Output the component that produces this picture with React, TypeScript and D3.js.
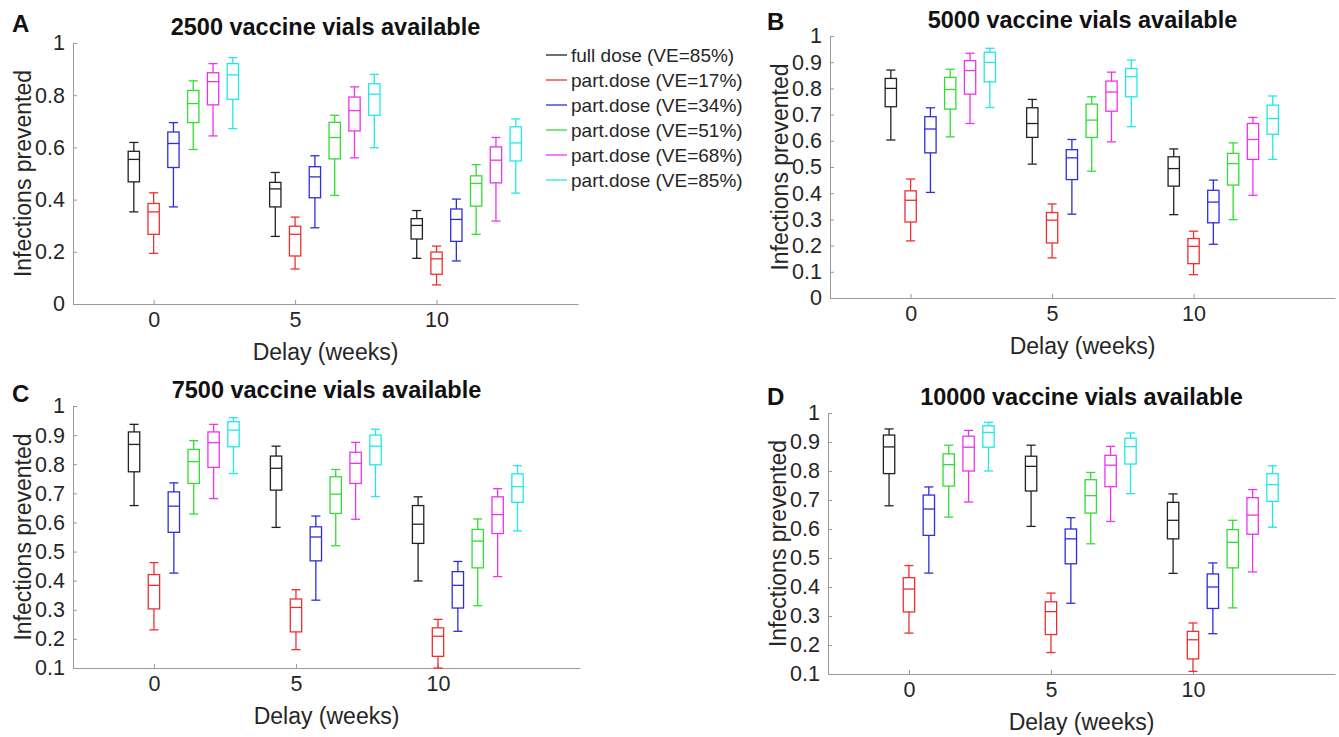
import React, { useEffect, useRef } from 'react';
import * as d3 from 'd3';

const delays = [0, 5, 10];
const seriesNames = [
  'full dose (VE=85%)',
  'part.dose (VE=17%)',
  'part.dose (VE=34%)',
  'part.dose (VE=51%)',
  'part.dose (VE=68%)',
  'part.dose (VE=85%)',
];
const seriesColors = ['#222222', '#ee3030', '#2e2ee0', '#33dd33', '#ee33ee', '#22e8e8'];
// box positions relative to the delay tick
const seriesOffsets = [-0.7, 0, 0.7, 1.4, 2.1, 2.8];

// per series -> per delay -> [low whisker, q1, median, q3, high whisker]
const vials2500 = [
  [[0.353, 0.468, 0.554, 0.585, 0.619], [0.259, 0.372, 0.441, 0.466, 0.504], [0.175, 0.249, 0.301, 0.327, 0.358]],
  [[0.194, 0.267, 0.353, 0.385, 0.426], [0.134, 0.184, 0.267, 0.298, 0.333], [0.073, 0.114, 0.173, 0.199, 0.222]],
  [[0.372, 0.523, 0.615, 0.659, 0.695], [0.292, 0.407, 0.487, 0.526, 0.568], [0.165, 0.240, 0.324, 0.364, 0.402]],
  [[0.592, 0.695, 0.768, 0.818, 0.855], [0.416, 0.556, 0.638, 0.696, 0.723], [0.267, 0.375, 0.462, 0.491, 0.534]],
  [[0.644, 0.763, 0.852, 0.886, 0.921], [0.560, 0.663, 0.741, 0.793, 0.832], [0.318, 0.464, 0.551, 0.602, 0.638]],
  [[0.672, 0.784, 0.878, 0.921, 0.944], [0.599, 0.723, 0.804, 0.844, 0.880], [0.425, 0.548, 0.617, 0.679, 0.709]],
];

const vials5000 = [
  [[0.603, 0.730, 0.800, 0.838, 0.870], [0.511, 0.613, 0.666, 0.726, 0.758], [0.318, 0.427, 0.494, 0.539, 0.569]],
  [[0.218, 0.290, 0.373, 0.409, 0.454], [0.153, 0.210, 0.297, 0.326, 0.359], [0.089, 0.131, 0.197, 0.227, 0.255]],
  [[0.403, 0.554, 0.645, 0.692, 0.726], [0.320, 0.452, 0.535, 0.566, 0.605], [0.205, 0.287, 0.366, 0.411, 0.450]],
  [[0.615, 0.721, 0.796, 0.842, 0.873], [0.484, 0.613, 0.679, 0.740, 0.768], [0.299, 0.431, 0.513, 0.552, 0.592]],
  [[0.666, 0.778, 0.868, 0.906, 0.934], [0.596, 0.713, 0.786, 0.828, 0.862], [0.392, 0.529, 0.605, 0.666, 0.689]],
  [[0.727, 0.825, 0.899, 0.938, 0.953], [0.654, 0.768, 0.845, 0.876, 0.908], [0.529, 0.625, 0.685, 0.736, 0.771]],
];

const vials7500 = [
  [[0.658, 0.774, 0.868, 0.911, 0.937], [0.583, 0.711, 0.786, 0.828, 0.862], [0.399, 0.528, 0.594, 0.658, 0.688]],
  [[0.231, 0.303, 0.384, 0.421, 0.462], [0.163, 0.224, 0.308, 0.337, 0.369], [0.100, 0.140, 0.209, 0.238, 0.267]],
  [[0.426, 0.566, 0.656, 0.705, 0.736], [0.333, 0.468, 0.550, 0.585, 0.622], [0.226, 0.306, 0.384, 0.431, 0.466]],
  [[0.629, 0.734, 0.809, 0.851, 0.881], [0.520, 0.631, 0.697, 0.757, 0.782], [0.314, 0.444, 0.536, 0.576, 0.612]],
  [[0.682, 0.789, 0.874, 0.911, 0.937], [0.611, 0.734, 0.803, 0.841, 0.875], [0.414, 0.562, 0.627, 0.688, 0.716]],
  [[0.768, 0.860, 0.917, 0.946, 0.960], [0.689, 0.798, 0.862, 0.900, 0.920], [0.571, 0.669, 0.723, 0.767, 0.795]],
];

const vials10000 = [
  [[0.680, 0.791, 0.883, 0.924, 0.945], [0.609, 0.731, 0.816, 0.851, 0.889], [0.447, 0.566, 0.630, 0.692, 0.721]],
  [[0.241, 0.314, 0.393, 0.432, 0.474], [0.174, 0.236, 0.315, 0.349, 0.379], [0.109, 0.152, 0.218, 0.247, 0.276]],
  [[0.448, 0.578, 0.669, 0.717, 0.745], [0.344, 0.480, 0.566, 0.600, 0.639], [0.239, 0.326, 0.400, 0.445, 0.483]],
  [[0.641, 0.748, 0.822, 0.859, 0.889], [0.549, 0.655, 0.715, 0.770, 0.795], [0.328, 0.466, 0.554, 0.598, 0.630]],
  [[0.693, 0.800, 0.882, 0.920, 0.940], [0.626, 0.746, 0.820, 0.854, 0.885], [0.452, 0.582, 0.648, 0.708, 0.736]],
  [[0.800, 0.882, 0.933, 0.956, 0.968], [0.722, 0.824, 0.884, 0.913, 0.931], [0.606, 0.695, 0.753, 0.791, 0.818]],
];

const yTicksFrom0 = [0, 0.2, 0.4, 0.6, 0.8, 1];
const yTicksTenths = [0, 0.1, 0.2, 0.3, 0.4, 0.5, 0.6, 0.7, 0.8, 0.9, 1];
const yTicksFrom01 = [0.1, 0.2, 0.3, 0.4, 0.5, 0.6, 0.7, 0.8, 0.9, 1];

const panels = [
  { letter: 'A', title: '2500 vaccine vials available', data: vials2500, yDomain: [0, 1], yTicks: yTicksFrom0,
    left: 73, right: 578, top: 43, bottom: 304, letterX: 12, letterY: 32, legend: true },
  { letter: 'B', title: '5000 vaccine vials available', data: vials5000, yDomain: [0, 1], yTicks: yTicksTenths,
    left: 830, right: 1335, top: 36, bottom: 298, letterX: 767, letterY: 30, legend: false },
  { letter: 'C', title: '7500 vaccine vials available', data: vials7500, yDomain: [0.1, 1], yTicks: yTicksFrom01,
    left: 73, right: 580, top: 406, bottom: 668, letterX: 12, letterY: 402, legend: false },
  { letter: 'D', title: '10000 vaccine vials available', data: vials10000, yDomain: [0.1, 1], yTicks: yTicksFrom01,
    left: 828, right: 1335, top: 413, bottom: 674, letterX: 767, letterY: 405, legend: false },
];

const FONT = "'Liberation Sans', Arial, sans-serif";
const AXIS_COLOR = '#9a9a9a';
const TEXT_COLOR = '#262626';

function drawPanel(svg, p) {
  const x = d3.scaleLinear().domain([-2.85, 15]).range([p.left, p.right]);
  const y = d3.scaleLinear().domain(p.yDomain).range([p.bottom, p.top]);
  const g = svg.append('g');

  const xAxis = g.append('g')
    .attr('transform', `translate(0,${p.bottom})`)
    .call(d3.axisBottom(x).tickValues(delays).tickSizeInner(-4).tickSizeOuter(0).tickPadding(8));
  const yAxis = g.append('g')
    .attr('transform', `translate(${p.left},0)`)
    .call(d3.axisLeft(y).tickValues(p.yTicks).tickSizeInner(-4).tickSizeOuter(0).tickPadding(8)
      .tickFormat(d3.format('~g')));

  [xAxis, yAxis].forEach(a => {
    a.select('.domain').attr('stroke', AXIS_COLOR);
    a.selectAll('.tick line').attr('stroke', AXIS_COLOR);
    a.selectAll('.tick text').attr('fill', TEXT_COLOR).style('font-size', '21.5px').style('font-family', FONT);
  });

  // boxes
  const halfBox = x(0.2) - x(0);
  const halfCap = x(0.16) - x(0);
  p.data.forEach((series, s) => {
    const color = seriesColors[s];
    series.forEach((st, di) => {
      const [lo, q1, med, q3, hi] = st;
      const cx = x(delays[di] + seriesOffsets[s]);
      const bg = g.append('g').attr('stroke', color).attr('stroke-width', 1.3).attr('fill', 'none');
      bg.append('line').attr('x1', cx).attr('x2', cx).attr('y1', y(hi)).attr('y2', y(q3));
      bg.append('line').attr('x1', cx).attr('x2', cx).attr('y1', y(q1)).attr('y2', y(lo));
      bg.append('line').attr('x1', cx - halfCap).attr('x2', cx + halfCap).attr('y1', y(hi)).attr('y2', y(hi));
      bg.append('line').attr('x1', cx - halfCap).attr('x2', cx + halfCap).attr('y1', y(lo)).attr('y2', y(lo));
      bg.append('rect').attr('x', cx - halfBox).attr('width', 2 * halfBox)
        .attr('y', y(q3)).attr('height', y(q1) - y(q3));
      bg.append('line').attr('x1', cx - halfBox).attr('x2', cx + halfBox).attr('y1', y(med)).attr('y2', y(med));
    });
  });

  // labels
  g.append('text')
    .attr('x', (p.left + p.right) / 2).attr('y', p.top - 8)
    .attr('text-anchor', 'middle').attr('fill', '#111')
    .style('font-family', FONT).style('font-size', '23.5px').style('font-weight', 'bold')
    .text(p.title);
  g.append('text')
    .attr('x', p.letterX).attr('y', p.letterY)
    .attr('fill', '#111')
    .style('font-family', FONT).style('font-size', '24px').style('font-weight', 'bold')
    .text(p.letter);
  g.append('text')
    .attr('x', (p.left + p.right) / 2).attr('y', p.bottom + 56)
    .attr('text-anchor', 'middle').attr('fill', TEXT_COLOR)
    .style('font-family', FONT).style('font-size', '23px')
    .text('Delay (weeks)');
  g.append('text')
    .attr('transform', `translate(${p.left - 50},${(p.top + p.bottom) / 2}) rotate(-90)`)
    .attr('text-anchor', 'middle').attr('dominant-baseline', 'central').attr('fill', TEXT_COLOR)
    .style('font-family', FONT).style('font-size', '23px')
    .text('Infections prevented');

  if (p.legend) {
    const lg = g.append('g').attr('transform', 'translate(546,55)');
    seriesNames.forEach((name, i) => {
      const row = lg.append('g').attr('transform', `translate(0,${i * 25})`);
      row.append('line').attr('x1', 0).attr('x2', 21).attr('stroke', seriesColors[i]).attr('stroke-width', 1.3);
      row.append('text').attr('x', 25).attr('dy', '0.35em').attr('fill', TEXT_COLOR)
        .style('font-family', FONT).style('font-size', '19px')
        .text(name);
    });
  }
}

export default function App() {
  const ref = useRef(null);

  useEffect(() => {
    const svg = d3.select(ref.current);
    svg.selectAll('*').remove();
    panels.forEach(p => drawPanel(svg, p));
  }, []);

  return (
    <svg
      ref={ref}
      width={1339}
      height={737}
      style={{ position: 'absolute', left: 0, top: 0, background: '#fff' }}
    />
  );
}
